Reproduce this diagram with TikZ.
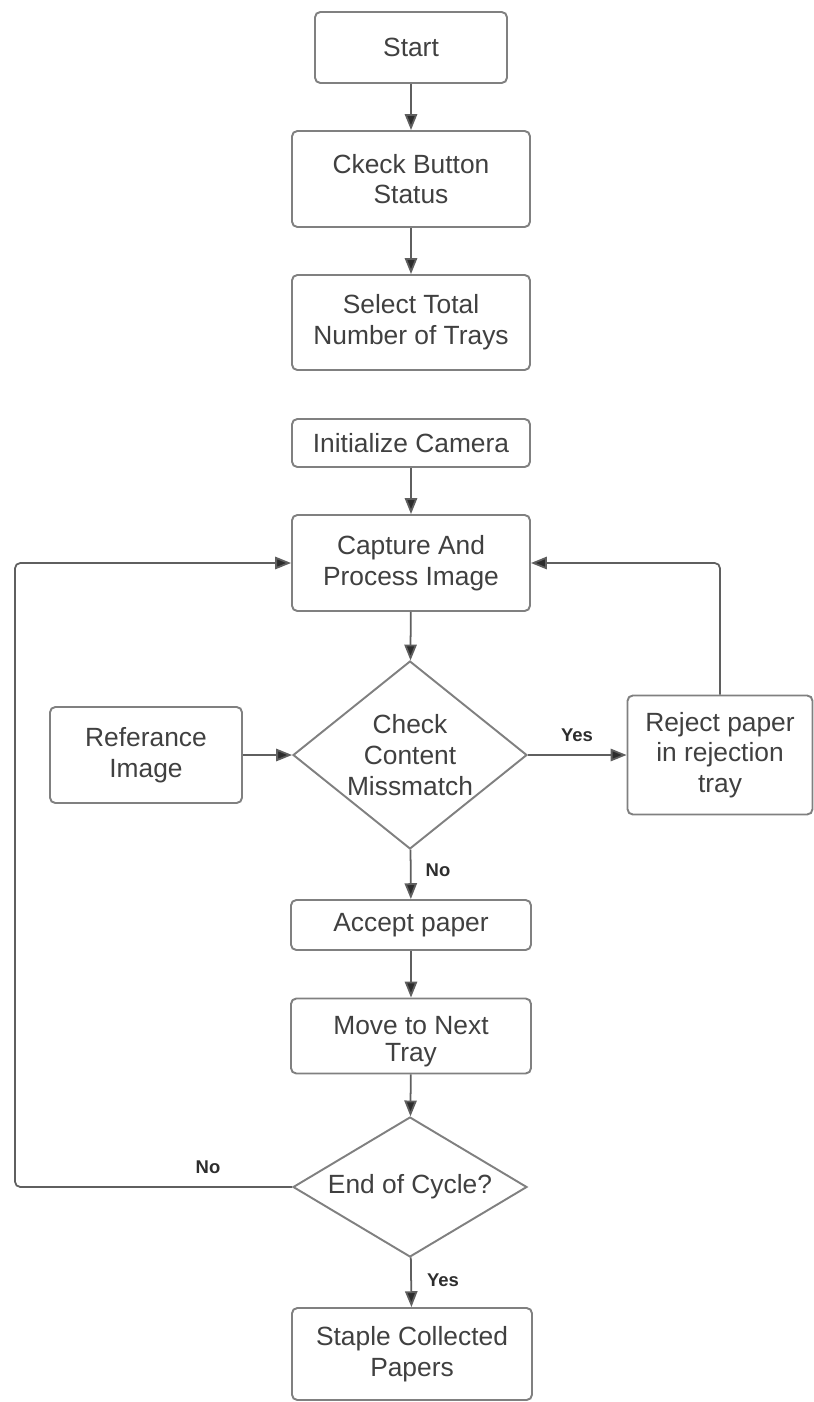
\documentclass[tikz,border=0pt]{standalone}
\usepackage{fontspec}
\setmainfont{Liberation Sans}
\usepackage{tikz}
\usetikzlibrary{arrows.meta,shapes.geometric}
\usepackage{xcolor}
\definecolor{fc1}{RGB}{64,64,64}
\definecolor{fc2}{RGB}{128,128,128}
\definecolor{fc3}{RGB}{95,95,95}
\definecolor{fc4}{RGB}{45,45,45}

\begin{document}
\begin{tikzpicture}[
  x=0.02cm, y=-0.02cm,
  every node/.style={font=\fontsize{15}{17.5}\selectfont, text=fc1},
  proc/.style={rectangle, draw=fc2, line width=1.1pt, rounded corners=3pt, fill=white, align=center, inner sep=2pt},
  decision/.style={diamond, draw=fc2, line width=1.1pt, fill=white, align=center, inner sep=0pt},
  flow/.style={draw=fc3, line width=1pt, -{Triangle[length=9pt, width=7pt, fill=fc4]}},
  lbl/.style={font=\fontsize{10.5}{12}\selectfont\bfseries, text=fc4},
]
\useasboundingbox (0,0) rectangle (814,1402);

% Main column
\node[proc, minimum width=3.84cm, minimum height=1.42cm] (start) at (411,47.5) {Start};
\node[proc, minimum width=4.76cm, minimum height=1.92cm] (check) at (411,179) {Ckeck Button\\Status};
\node[proc, minimum width=4.76cm, minimum height=1.90cm] (trays) at (411,322.5) {Select Total\\Number of Trays};
\node[proc, minimum width=4.76cm, minimum height=0.96cm] (initcam) at (411,443) {Initialize Camera};
\node[proc, minimum width=4.76cm, minimum height=1.92cm] (capture) at (411,563) {Capture And\\Process Image};
\node[decision, shape aspect=1.25, minimum width=4.68cm, minimum height=3.76cm] (mismatch) at (410,755) {Check\\Content\\Missmatch};
\node[proc, minimum width=4.80cm, minimum height=1.00cm] (accept) at (411,925) {Accept paper};
\node[proc, minimum width=4.80cm, minimum height=1.50cm] (move) at (411,1036) {\raisebox{-7pt}[0pt][0pt]{\begin{tabular}{@{}c@{}}Move to Next\\[-2pt]Tray\end{tabular}}};
\node[decision, shape aspect=1.67, minimum width=4.68cm, minimum height=2.80cm] (endc) at (410,1187) {End of Cycle?};
\node[proc, minimum width=4.80cm, minimum height=1.84cm] (staple) at (412,1354) {Staple Collected\\Papers};

% Side boxes
\node[proc, minimum width=3.84cm, minimum height=1.92cm] (refimg) at (146,755) {Referance\\Image};
\node[proc, minimum width=3.70cm, minimum height=2.38cm] (reject) at (720,755) {Reject paper\\in rejection\\tray};

\coordinate (lturn) at (15,563);

% Connections
\draw[flow] (start) -- (check);
\draw[flow] (check) -- (trays);
\draw[flow] (initcam) -- (capture);
\draw[flow] (capture) -- (mismatch);
\draw[flow] (refimg) -- (mismatch);
\draw[flow] (mismatch) -- (reject);
\draw[flow] (mismatch) -- (accept);
\draw[flow] (accept) -- (move);
\draw[flow] (move) -- (endc);
\draw[flow] (endc) -- (staple);
\draw[flow, rounded corners=3pt] (endc.west) -| (lturn) -- (capture.west);
\draw[flow, rounded corners=3pt] (reject.north) |- (capture.east);

% Branch labels
\node[lbl] (yes1) at (577,735) {Yes};
\node[lbl] (no1) at (438,870) {No};
\node[lbl] (no2) at (208,1167) {No};
\node[lbl] (yes2) at (443,1280) {Yes};

\end{tikzpicture}
\end{document}
